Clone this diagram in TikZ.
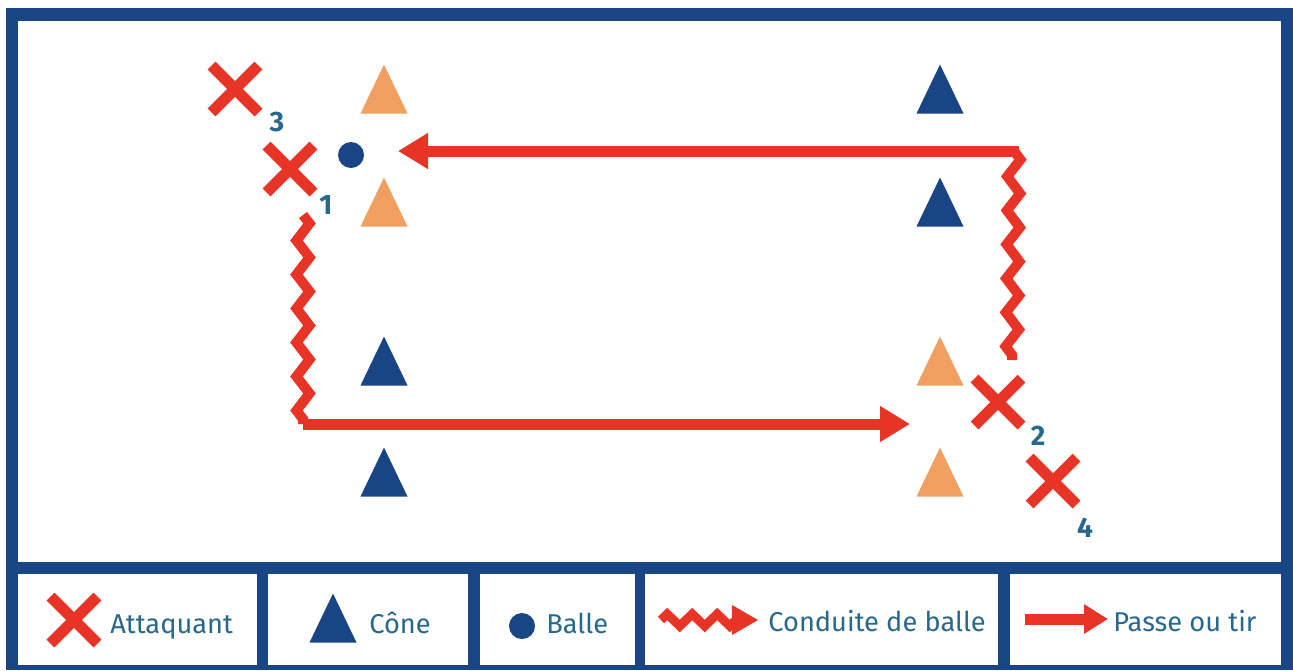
\documentclass[tikz,border=0pt]{standalone}
\usepackage{fontspec}
\setmainfont{Fira Sans}
\usetikzlibrary{positioning,arrows.meta,shapes.misc}
\usetikzlibrary{decorations.pathmorphing}
\definecolor{bleu}{RGB}{26,69,133}
\definecolor{rouge}{RGB}{232,52,38}
\definecolor{orangec}{RGB}{242,160,98}
\definecolor{texte}{RGB}{40,104,140}
\tikzset{
CD/.style={decorate, draw=rouge, line width=0.2cm,
    decoration={zigzag,segment length=0.68cm,amplitude=0.13cm}},
PT/.style={draw=rouge, line width=0.22cm, -{Triangle[length=0.6cm,width=0.68cm]}},
joueur/.style={cross out, draw=rouge, line width=0.22cm, minimum size=0.94cm, inner sep=0pt, outer sep=0pt},
balle/.style={circle, fill=bleu, minimum size=0.52cm, inner sep=0pt},
num/.style={text=texte, font=\fontsize{16}{16}\selectfont\bfseries, inner sep=0pt, anchor=base},
leg/.style={text=texte, font=\fontsize{15.5}{15.5}\selectfont, inner sep=0pt, anchor=base west},
pics/cone/.style={code={\fill[#1] (-23.5,24.5) -- (0,-24.5) -- (23.5,24.5) -- cycle;}}
}

\begin{document}
\begin{tikzpicture}[x=0.02cm,y=-0.02cm]
\useasboundingbox (0,0) rectangle (1293,670);

% cadre
\fill[bleu] (6,8) rectangle (1293,670);
\fill[white] (18,21) rectangle (1281,562);
\foreach \a/\b in {18/257,268/468,480/635,645/998,1010/1281}
  \fill[white] (\a,574) rectangle (\b,665);

% plots
\pic at (384,89) {cone=orangec};
\pic at (384,202) {cone=orangec};
\pic at (940,361) {cone=orangec};
\pic at (940,472) {cone=orangec};
\pic at (940,89) {cone=bleu};
\pic at (940,202) {cone=bleu};
\pic at (384,361) {cone=bleu};
\pic at (384,472) {cone=bleu};

% joueurs
\node[joueur] (a3) at (235,89) {};
\node[joueur] (a1) at (290,169) {};
\node[joueur] (a2) at (998,402) {};
\node[joueur] (a4) at (1053,481) {};
\node[num] (n3) at (277,131) {3};
\node[num] (n1) at (326,214) {1};
\node[num] (n2) at (1038,445) {2};
\node[num] (n4) at (1085,537) {4};
\node[balle] (b) at (351,155) {};

% conduites et passes
\coordinate (r0) at (1019,151);
\coordinate (r1) at (1014,151);
\coordinate (r2) at (1012,360);
\coordinate (t1) at (398,151);
\coordinate (l1) at (303,215);
\coordinate (l2) at (303,424);
\coordinate (t2) at (910,424);
\draw[PT] (r0) -- (t1);
\draw[CD] (r1) -- (r2);
\draw[CD] (l1) -- (l2);
\draw[PT] (l2) -- (t2);

% legende
\node[joueur] (la) at (74,620) {};
\node[leg] (ta) at (110,633) {Attaquant};
\pic at (333,618) {cone=bleu};
\node[leg] (tc) at (369,633) {Cône};
\node[balle] (lb) at (522,626) {};
\node[leg] (tb) at (546,633) {Balle};
\coordinate (z1) at (661,620);
\coordinate (z2) at (736,620);
\draw[CD,line width=0.18cm,decoration={segment length=0.5cm,amplitude=0.12cm}] (z1) -- (z2);
\fill[rouge] (732,605) -- (758,620) -- (732,635) -- cycle;
\node[leg] (tz) at (768,631) {Conduite de balle};
\coordinate (p1) at (1025,619);
\coordinate (p2) at (1108,619);
\draw[PT,-{Triangle[length=0.48cm,width=0.56cm]}] (p1) -- (p2);
\node[leg] (tp) at (1113,631) {Passe ou tir};
\end{tikzpicture}
\end{document}
